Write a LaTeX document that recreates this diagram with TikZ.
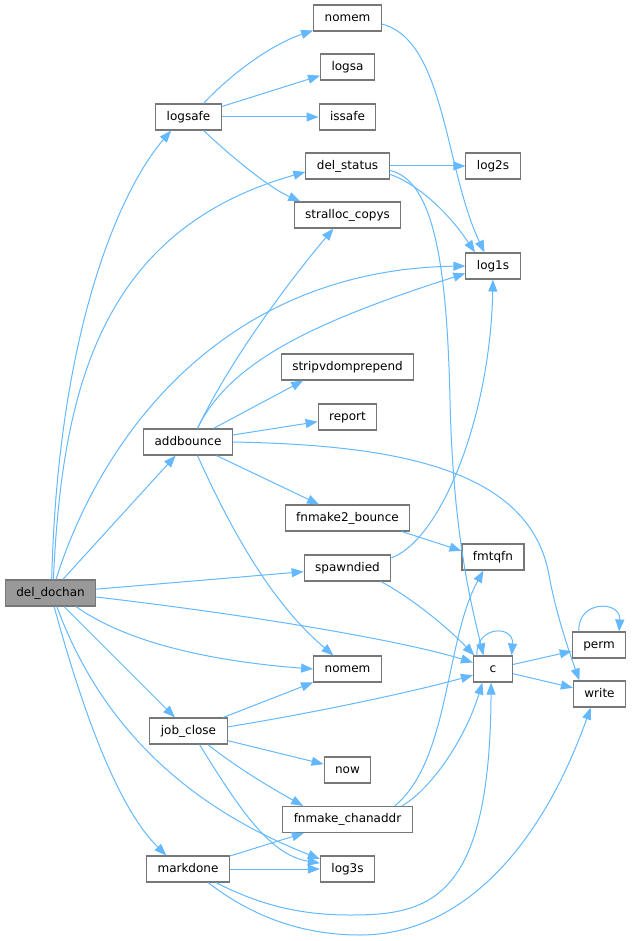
\documentclass[tikz,border=0pt]{standalone}
\usepackage{fontspec}
\setmainfont{DejaVu Sans}
\usetikzlibrary{arrows.meta}
\definecolor{edgeblue}{HTML}{63B8FF}
\definecolor{boxline}{HTML}{777777}
\definecolor{rootfill}{HTML}{999999}

\begin{document}
\begin{tikzpicture}[x=1pt,y=-1pt,
    box/.style={draw=boxline,fill=white,line width=1.1pt,minimum height=26pt,minimum width=39pt,
      inner xsep=11pt,inner ysep=0pt,text height=9pt,text depth=2.5pt,font=\fontsize{12}{14}\selectfont},
    root/.style={box,fill=rootfill},
    call/.style={draw=edgeblue,line width=1pt,-{Triangle[length=12pt,width=9pt]}}]
  \useasboundingbox (0,0) rectangle (631,941);

  \node[root] (dd) at (50.5,593) {del\_dochan};

  \node[box] (logsafe) at (188.5,117) {logsafe};
  \node[box] (addbounce) at (188,442) {addbounce};
  \node[box] (jobclose) at (188.5,731) {job\_close};
  \node[box] (markdone) at (188,869) {markdone};

  \node[box] (nomemA) at (347.5,18) {nomem};
  \node[box] (logsa) at (347.5,67) {logsa};
  \node[box] (issafe) at (347.5,117) {issafe};
  \node[box] (delstatus) at (347.5,166) {del\_status};
  \node[box] (stralloc) at (347.5,215) {stralloc\_copys};
  \node[box] (stripv) at (347.5,367) {stripvdomprepend};
  \node[box] (report) at (347.5,417) {report};
  \node[box] (fnmake2) at (347.5,518) {fnmake2\_bounce};
  \node[box] (spawndied) at (347.5,568) {spawndied};
  \node[box] (nomemB) at (347.5,669) {nomem};
  \node[box] (now) at (347.5,770) {now};
  \node[box] (fnmakechan) at (347.5,819.5) {fnmake\_chanaddr};
  \node[box] (log3s) at (347.5,869) {log3s};

  \node[box] (log2s) at (493,166) {log2s};
  \node[box] (log1s) at (493,266) {log1s};
  \node[box] (fmtqfn) at (493,557) {fmtqfn};
  \node[box] (c) at (493,669) {c};

  \node[box] (perm) at (599,645) {perm};
  \node[box] (write) at (599.5,694) {write};

  \draw[call] (dd.85) .. controls (58,330) and (120,190) .. (logsafe.-142);
  \draw[call] (dd.78) .. controls (62,390) and (100,230) .. (delstatus.-172);
  \draw[call] (dd.68) .. controls (100,440) and (220,270) .. (log1s.west);
  \draw[call] (dd) -- (addbounce);
  \draw[call] (dd) -- (spawndied);
  \draw[call] (dd.-5) .. controls (250,615) and (400,640) .. (c.162);
  \draw[call] (dd.-28) .. controls (130,645) and (220,662) .. (nomemB.west);
  \draw[call] (dd) -- (jobclose);
  \draw[call] (dd.-65) .. controls (95,710) and (170,800) .. (log3s.160);
  \draw[call] (dd.-75) .. controls (85,720) and (120,810) .. (markdone.148);

  \draw[call] (logsafe.42) .. controls (230,75) and (270,45) .. (nomemA.200);
  \draw[call] (logsafe) -- (logsa);
  \draw[call] (logsafe) -- (issafe);
  \draw[call] (logsafe.-42) .. controls (235,160) and (270,188) .. (stralloc.164);

  \draw[call] (nomemA.-10) .. controls (445,40) and (445,170) .. (log1s.122);

  \draw[call] (delstatus) -- (log2s);
  \draw[call] (delstatus.-11) .. controls (420,185) and (450,215) .. (log1s.143);
  \draw[call] (delstatus.-6) .. controls (435,180) and (447,270) .. (450,400)
    .. controls (453,530) and (470,600) .. (c.125);

  \draw[call] (addbounce.55) .. controls (230,360) and (290,280) .. (stralloc.-136);
  \draw[call] (addbounce.55) .. controls (230,360) and (320,320) .. (log1s.195);
  \draw[call] (addbounce.28) -- (stripv.-163);
  \draw[call] (addbounce) -- (report);
  \draw[call] (addbounce.east) .. controls (400,445) and (530,470) .. (549,575)
    .. controls (556,615) and (572,660) .. (write.146);
  \draw[call] (addbounce) -- (fnmake2);
  \draw[call] (addbounce.-55) .. controls (240,550) and (280,610) .. (nomemB.136);

  \draw[call] (fnmake2.-14) -- (fmtqfn.169);

  \draw[call] (spawndied.13) .. controls (440,540) and (490,420) .. (log1s.south);
  \draw[call] (spawndied.-22) .. controls (415,600) and (450,630) .. (c.144);

  \draw[call] (c.140) .. controls (476,625) and (514,625) .. (c.36);
  \draw[call] (c) -- (perm);
  \draw[call] (c) -- (write);
  \draw[call] (perm.146) .. controls (577,600) and (621,600) .. (perm.34);

  \draw[call] (jobclose) -- (nomemB);
  \draw[call] (jobclose.6) .. controls (320,712) and (420,690) .. (c.-163);
  \draw[call] (jobclose) -- (now);
  \draw[call] (jobclose.-35) .. controls (240,770) and (275,790) .. (fnmakechan.163);
  \draw[call] (jobclose.-51) .. controls (240,810) and (270,855) .. (log3s.168);

  \draw[call] (fnmakechan.16) .. controls (450,760) and (445,640) .. (fmtqfn.-125);
  \draw[call] (fnmakechan.14) .. controls (430,790) and (465,740) .. (c.-128);

  \draw[call] (markdone) -- (fnmakechan);
  \draw[call] (markdone) -- (log3s);
  \draw[call] (markdone.-26) .. controls (260,905) and (300,915) .. (350,915)
    .. controls (430,915) and (490,900) .. (c.-98);
  \draw[call] (markdone.-34) .. controls (250,915) and (300,935) .. (360,935)
    .. controls (460,935) and (540,850) .. (write.-123);
\end{tikzpicture}
\end{document}
